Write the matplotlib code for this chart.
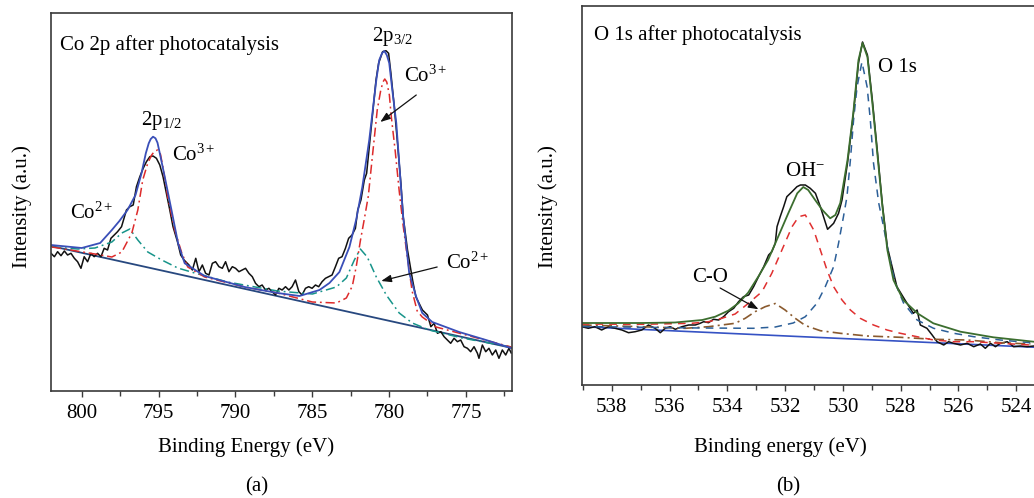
import matplotlib
matplotlib.use("Agg")
import matplotlib.pyplot as plt

plt.rcParams['font.family'] = ['Liberation Serif', 'DejaVu Serif']
plt.rcParams['mathtext.fontset'] = 'custom'
plt.rcParams['mathtext.rm'] = 'Liberation Serif'
plt.rcParams['mathtext.it'] = 'Liberation Serif:italic'
plt.rcParams['mathtext.bf'] = 'Liberation Serif:bold'

# ---------------- Panel (a): Co 2p ----------------
co_raw_be = [802.0, 801.78, 801.57, 801.35, 801.13, 800.92, 800.70, 800.48, 800.27, 800.05, 799.84, 799.62, 799.40,
             799.19, 798.97, 798.75, 798.54, 798.32, 798.10, 797.89, 797.67,
             797.41, 797.09, 796.87, 796.65, 796.44, 796.22, 796.00, 795.79, 795.57, 795.36, 795.14, 794.92, 794.71,
             794.49, 794.27, 794.06,
             793.77, 793.56, 793.34, 793.02, 792.80, 792.58, 792.37, 792.15, 791.94, 791.72, 791.50, 791.29, 791.07,
             790.85, 790.64, 790.42, 790.20, 789.99, 789.77, 789.55, 789.34, 789.12, 788.90, 788.69, 788.47, 788.26,
             788.04, 787.82, 787.61, 787.39, 787.17, 786.96, 786.74, 786.52, 786.31, 786.09, 785.87, 785.66, 785.44,
             785.23, 785.01, 784.79, 784.58, 784.36, 784.14, 783.93, 783.71, 783.49, 783.28, 783.06, 782.84, 782.63,
             782.41, 782.19,
             782.04, 781.83, 781.61, 781.46, 781.18, 780.85, 780.68, 780.42, 780.20, 780.03, 779.88, 779.66, 779.45,
             779.23, 779.08, 778.80, 778.47,
             778.26, 777.83, 777.50, 777.28, 777.07, 776.85, 776.63, 776.42, 776.20, 775.99, 775.77, 775.55, 775.34,
             775.12, 774.90, 774.69, 774.47, 774.25, 774.15, 773.93, 773.71, 773.50, 773.28, 773.06, 772.85, 772.63,
             772.41, 772.20, 772.05]
co_raw_int = [137.7, 134.3, 139.3, 135.3, 140, 136, 137.7, 132.7, 129.3, 122.7, 134.3, 129.3, 137.7,
              134.3, 137.7, 134.3, 142.7, 141, 152.7, 156, 159.3,
              164.3, 181, 184.3, 186, 204.3, 214.3, 222.7, 229.3, 234.3, 235, 232.7, 226, 214.3,
              197.7, 181, 164.3,
              149.3, 136, 131, 126, 121, 132.7, 119.3, 126, 117.7, 116, 127.7, 129.3, 124.3,
              122.7, 129.3, 119.3, 124.3, 122.7, 119.3, 121, 122.7, 117.7, 114.3, 107.7, 104.3, 106,
              101, 102.7, 99.3, 96, 102.7, 101, 104.3, 101, 104.3, 111, 99.3, 96, 102.7,
              104.3, 102.7, 106, 104.3, 109.3, 112.7, 114.3, 116, 124.3, 132.7, 134.3, 142.7, 152.7,
              156, 162.7,
              181, 191, 211, 217.7, 261, 311, 327.7, 339.3, 340.3, 337.7, 317.7, 284.3, 247.7,
              207.7, 174.3, 141, 111,
              94.3, 81, 76, 64.3, 67.7, 57.7, 59.3, 54.3, 51, 47.7, 52.7, 49.3, 51,
              44.3, 42.7, 39.3, 44.3, 37.7, 32.7, 46, 39.3, 42.7, 36, 41, 32.7, 41,
              36, 42.7, 38]

co_env_be = [802.0, 800.0, 798.8, 798.04, 797.55, 797.02, 796.50, 796.11, 795.83, 795.64, 795.51, 795.36, 795.20,
             795.07, 794.92, 794.60, 794.16, 793.73, 793.30, 792.0, 789.4, 787.26, 785.83, 784.53, 783.88, 783.23,
             782.58, 782.13, 781.74, 781.29, 780.83, 780.64, 780.45, 780.31, 780.15, 779.99, 779.79, 779.53, 779.34,
             779.08, 778.69, 778.23, 777.84, 777.19, 775.44, 773.69, 772.06]
co_env_int = [146, 143, 148, 161, 170, 181, 196, 217.7, 237.7, 247.7, 252, 254.3, 252.7,
              248.3, 237.7, 214.3, 181, 147.7, 127.7, 115, 104, 98, 95, 101, 108, 119,
              144, 172, 204, 251, 311, 331, 338, 340, 336, 328, 301, 268, 228,
              174, 118, 94, 78, 69, 59, 51, 43]

co3_be = [801.94, 799.14, 798.04, 797.39, 796.74, 796.35, 796.03, 795.70, 795.45, 795.25, 795.05, 794.88, 794.73,
          794.40, 793.95, 793.49, 793.10, 792.0, 789.40, 787.26, 784.99, 783.43, 782.78, 782.39, 782.13, 781.87,
          781.61, 781.35, 781.09, 780.77, 780.55, 780.40, 780.28, 780.15, 779.98, 779.86, 779.60, 779.34, 779.08,
          778.82, 778.50, 778.17, 777.84, 776.94, 774.99, 772.06]
co3_int = [144, 137, 134, 139, 158, 181, 211, 228, 236, 240, 241, 237, 225,
           194, 161, 138, 124, 114, 104, 98, 89, 88, 93, 105, 125, 150,
           172, 195, 234, 281, 300, 309, 312, 309, 296, 275, 240, 200, 165,
           135, 100, 80, 74, 64, 56, 44]

co2_be = [801.94, 800.25, 799.14, 798.04, 797.39, 796.87, 796.35, 795.70, 794.79, 793.75, 792.65, 790.51, 787.26,
          784.99, 783.43, 782.78, 782.26, 781.87, 781.42, 780.83, 780.18, 779.34, 778.49, 777.39, 775.25, 772.06]
co2_int = [144, 142, 143, 149, 158, 162, 151, 139, 131, 123, 118, 109, 100, 97, 104, 113, 131, 142, 134, 114, 96, 78,
           68, 61, 53, 44]

co_bg_be = [802.0, 772.0]
co_bg_int = [145, 43]

# ---------------- Panel (b): O 1s ----------------
o_raw_be = [539.04, 538.81, 538.58, 538.35, 538.12, 537.88, 537.65, 537.42, 537.19, 536.96, 536.73, 536.50, 536.32,
            536.15, 535.98, 535.80, 535.57, 535.34, 535.11, 534.94, 534.82, 534.65, 534.48, 534.30, 534.13, 533.96,
            533.78, 533.61, 533.44, 533.26, 533.09, 532.92, 532.74, 532.57, 532.46, 532.34, 532.28, 532.17, 532.05,
            531.94, 531.76, 531.59, 531.47, 531.30, 531.13, 530.95, 530.78, 530.53, 530.32, 530.15, 530.03, 529.84,
            529.64, 529.46, 529.32, 529.15, 528.98, 528.81, 528.63, 528.46, 528.13, 527.78, 527.56, 527.43, 527.32,
            527.09, 526.91, 526.74, 526.51, 526.34, 526.17, 525.93, 525.70, 525.47, 525.24, 525.07, 524.89, 524.72,
            524.55, 524.31, 524.09, 523.85, 523.62, 523.39]
o_raw_int = [58.3, 56.7, 58.3, 55, 58.3, 56.7, 55, 52.3, 53.3, 55, 60, 56.7, 52.3, 56.7, 58.3, 55.7, 58.3, 60, 60, 61.7,
             63.3, 62.3, 65.7, 65, 68.3, 73.3, 76.7, 83.3, 88.3, 90, 98.3, 108.3, 118.3, 130, 133.3, 141.7, 158.3,
             168.3, 178.3, 188.3, 193.3, 198.3, 200, 200, 196.7, 191.7, 178.3, 155.7, 161.7, 171.7, 185, 222, 270,
             322, 343, 330, 285, 235, 180, 138, 98.3, 81.7, 71.7, 75, 60, 56.7, 50, 43.3, 40, 43.3, 41.7, 40, 41.7,
             38.3, 41, 36.7, 41.7, 38.3, 41.7, 43.3, 38.3, 39, 38.3, 39]

o_env_be = [539.03, 536.95, 535.81, 534.87, 534.42, 533.97, 533.62, 533.28, 532.93, 532.59, 532.24, 531.89, 531.58,
            531.37, 531.20, 530.96, 530.71, 530.44, 530.26, 530.09, 529.84, 529.64, 529.46, 529.32, 529.15, 528.98,
            528.81, 528.63, 528.46, 528.25, 527.91, 527.42, 526.87, 525.93, 524.79, 523.40]
o_env_int = [62, 62, 62.5, 65, 68.3, 74.3, 81.7, 92.3, 108.3, 125, 148.3, 171.7, 191.7, 198, 195, 185, 175, 166.7, 170,
             182, 225, 272, 325, 342, 328, 282, 232, 178, 135, 105, 85, 71.7, 61.7, 53.3, 47.7, 43.3]

oh_be = [539.04, 536.96, 535.23, 534.65, 534.19, 533.73, 533.27, 532.80, 532.46, 532.11, 531.76, 531.53, 531.30,
         531.01, 530.78, 530.55, 530.32, 530.03, 529.74, 529.40, 528.94, 528.47, 528.01, 527.43, 526.86, 526.16,
         525.47, 524.55, 523.51]
oh_int = [61, 60.7, 61.7, 63.3, 66.7, 71, 81.7, 93.3, 111.7, 135, 158.3, 168.3, 170, 155, 135, 115, 98.3, 85, 75, 66.7,
          60, 55, 51.7, 48.3, 45, 43.3, 43.3, 41.7, 40]

olat_be = [539.03, 534.94, 533.10, 532.34, 531.72, 531.30, 530.90, 530.61, 530.32, 530.15, 529.98, 529.86, 529.74,
           529.63, 529.51, 529.34, 529.16, 529.05, 528.94, 528.76, 528.59, 528.42, 528.19, 527.90, 527.43, 526.86,
           526.16, 525.47, 524.55, 523.51]
olat_int = [58.5, 57, 56.7, 58, 62, 68.3, 81.7, 98.3, 118.3, 141.7, 168.3, 188, 225, 265, 298, 323, 298, 265, 222, 182,
            158, 132, 102, 82, 65, 56.7, 51.7, 48.3, 45, 42.3]

co_o_be = [539.04, 536.96, 535.46, 534.65, 534.19, 533.73, 533.38, 533.04, 532.69, 532.34, 532.00, 531.65, 531.30,
           530.78, 530.09, 529.16, 528.01, 526.86, 525.70, 524.55, 523.51]
co_o_int = [60, 58.3, 56.7, 58.3, 60, 61.7, 66.7, 73.3, 78.3, 81.5, 75, 66.7, 59.5, 54.3, 51.7, 49, 47.7, 45.7, 45,
            42.3, 41]

o_bg_be = [539.03, 523.40]
o_bg_int = [58.3, 37.8]

FS = 15
spine_c = '#3a3a3a'

fig = plt.figure(figsize=(10.34, 4.98), dpi=100)
axa = fig.add_axes([51 / 1034, 107 / 498, 461 / 1034, 378 / 498])
axb = fig.add_axes([582 / 1034, 113 / 498, 453 / 1034, 379 / 498])

for ax in (axa, axb):
    for s in ax.spines.values():
        s.set_color(spine_c)
        s.set_linewidth(1.2)
    ax.set_yticks([])
    ax.tick_params(axis='x', which='both', direction='out', color=spine_c, labelsize=FS, pad=5)
    ax.tick_params(axis='x', which='major', length=4.5, width=1.0)
    ax.tick_params(axis='x', which='minor', length=3.5, width=1.0)

# Panel (a)
dashdot = (0, (6, 2.5, 1.2, 2.5))
axa.plot(co_bg_be, co_bg_int, color='#27487f', lw=1.3)
axa.plot(co_raw_be, co_raw_int, color='#111111', lw=1.1)
axa.plot(co2_be, co2_int, color='#17948a', lw=1.1, ls=dashdot)
axa.plot(co3_be, co3_int, color='#dd2b2b', lw=1.1, ls=dashdot)
axa.plot(co_env_be, co_env_int, color='#3a4fb8', lw=1.3)
axa.set_xlim(802, 772)
axa.set_ylim(0, 378)
axa.set_xticks([800, 795, 790, 785, 780, 775])
axa.set_xticks([797.5, 792.5, 787.5, 782.5, 777.5, 772.5], minor=True)

axa.text(0.0195, 0.915, 'Co 2p after photocatalysis', transform=axa.transAxes, fontsize=FS, va='center', ha='left')
axa.text(779.8, 355, r'2p$_{\mathrm{3/2}}$', fontsize=FS, ha='center', va='center')
axa.text(779.0, 315, r'Co$^{\mathrm{3+}}$', fontsize=FS, ha='left', va='center')
axa.text(794.82, 271, r'2p$_{\mathrm{1/2}}$', fontsize=FS, ha='center', va='center')
axa.text(794.14, 236, r'Co$^{\mathrm{3+}}$', fontsize=FS, ha='left', va='center')
axa.text(800.77, 178, r'Co$^{\mathrm{2+}}$', fontsize=FS, ha='left', va='center')
axa.text(776.29, 128, r'Co$^{\mathrm{2+}}$', fontsize=FS, ha='left', va='center')
arrow_kw = dict(arrowstyle='-|>,head_length=0.6,head_width=0.22', color='#111111', lw=0.9, shrinkA=0, shrinkB=0)
axa.annotate('', xy=(780.57, 269), xytext=(778.23, 296), arrowprops=arrow_kw)
axa.annotate('', xy=(780.51, 110), xytext=(776.87, 124), arrowprops=arrow_kw)

axa.set_xlabel('Binding Energy (eV)', fontsize=FS, va='center')
axa.xaxis.set_label_coords(0.423, -0.148)
axa.set_ylabel('Intensity (a.u.)', fontsize=FS, va='center', ha='center')
axa.yaxis.set_label_coords(-0.063, 0.487)

# Panel (b)
axb.plot(o_bg_be, o_bg_int, color='#3552c4', lw=1.2)
axb.plot(o_raw_be, o_raw_int, color='#111111', lw=1.1)
axb.plot(co_o_be, co_o_int, color='#8a5a2e', lw=1.2, ls=dashdot)
axb.plot(oh_be, oh_int, color='#e03030', lw=1.1, ls=(0, (5, 4)))
axb.plot(olat_be, olat_int, color='#2c5f98', lw=1.1, ls=(0, (5, 4)))
axb.plot(o_env_be, o_env_int, color='#3c6e2f', lw=1.3)
axb.set_xlim(539.03, 523.35)
axb.set_ylim(0, 379)
axb.set_xticks([538, 536, 534, 532, 530, 528, 526, 524])
axb.set_xticks([539, 537, 535, 533, 531, 529, 527, 525], minor=True)

axb.text(0.0265, 0.923, 'O 1s after photocatalysis', transform=axb.transAxes, fontsize=FS, va='center', ha='left')
axb.text(528.77, 317, 'O 1s', fontsize=FS, ha='left', va='center')
axb.text(532.0, 213, r'OH$^{\mathrm{-}}$', fontsize=FS, ha='left', va='center')
axb.text(535.22, 108, 'C-O', fontsize=FS, ha='left', va='center')
axb.annotate('', xy=(532.92, 75.7), xytext=(534.25, 97), arrowprops=arrow_kw)

axb.set_xlabel('Binding energy (eV)', fontsize=FS, va='center')
axb.xaxis.set_label_coords(0.437, -0.164)
axb.set_ylabel('Intensity (a.u.)', fontsize=FS, va='center', ha='center')
axb.yaxis.set_label_coords(-0.075, 0.47)

fig.text(257 / 1034, 1 - 487 / 498, '(a)', fontsize=FS, ha='center', va='center')
fig.text(788 / 1034, 1 - 487 / 498, '(b)', fontsize=FS, ha='center', va='center')

fig.savefig('out.png', dpi=100)
